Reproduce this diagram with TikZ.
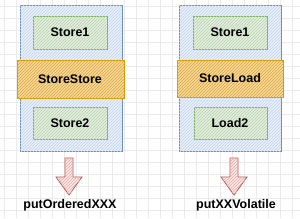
\documentclass[tikz,border=0pt]{standalone}
\usepackage{fontspec}
\setmainfont{Liberation Sans}
\usetikzlibrary{patterns}
\definecolor{bluS}{HTML}{6C8EBF}
\definecolor{bluF}{HTML}{E6EEF8}
\definecolor{bluP}{HTML}{C5D6EE}
\definecolor{grnS}{HTML}{82B366}
\definecolor{grnF}{HTML}{E3EEDF}
\definecolor{grnP}{HTML}{B9D4AE}
\definecolor{orgS}{HTML}{D79B00}
\definecolor{orgF}{HTML}{F3D9A0}
\definecolor{orgP}{HTML}{E0A630}
\definecolor{redS}{HTML}{B85450}
\definecolor{redF}{HTML}{FBEAEA}
\definecolor{redP}{HTML}{E8A8A6}
\definecolor{gridC}{HTML}{EBEBEB}
\begin{document}
\begin{tikzpicture}[x=1pt,y=-1pt,
  outerbox/.style={draw=bluS,line width=0.8pt,fill=bluF,postaction={pattern=north east lines,pattern color=bluP}},
  opbox/.style={draw=grnS,line width=0.8pt,fill=grnF,postaction={pattern=north east lines,pattern color=grnP}},
  barrier/.style={draw=orgS,line width=0.8pt,fill=orgF,postaction={pattern=north east lines,pattern color=orgP}},
  arrowshape/.style={draw=redS,line width=0.8pt,fill=redF,postaction={pattern=north east lines,pattern color=redP}},
  lbl/.style={font=\bfseries\fontsize{12.5}{14}\selectfont,text=black,inner sep=0pt}]
\useasboundingbox (0,0) rectangle (300,218);
\fill[white] (0,0) rectangle (300,218);
\foreach \x in {4,16,...,300} \draw[gridC,line width=0.4pt] (\x,0) -- (\x,218);
\foreach \y in {6,18,...,218} \draw[gridC,line width=0.4pt] (0,\y) -- (300,\y);
% left column
\path[outerbox] (20,5) rectangle (122,151);
\path[opbox] (33,16) rectangle (107,49);
\path[barrier] (17,60) rectangle (124,98);
\path[opbox] (33,107) rectangle (107,139);
\node[lbl] (s1) at (70,32.5) {Store1};
\node[lbl] (ss) at (70,79) {StoreStore};
\node[lbl] (s2) at (70,123) {Store2};
\path[arrowshape] (65,158) -- (73,158) -- (73,177) -- (82,177) -- (69,195) -- (56,177) -- (65,177) -- cycle;
\node[lbl] (l1) at (70,205) {putOrderedXXX};
% right column
\path[outerbox] (179,5) rectangle (281,151);
\path[opbox] (193,16) rectangle (267,49);
\path[barrier] (177,60) rectangle (283,97);
\path[opbox] (194,107) rectangle (267,139);
\node[lbl] (r1) at (230,32.5) {Store1};
\node[lbl] (sl) at (230,78.5) {StoreLoad};
\node[lbl] (r2) at (230,123) {Load2};
\path[arrowshape] (230,158) -- (238,158) -- (238,177) -- (247,177) -- (234,195) -- (221,177) -- (230,177) -- cycle;
\node[lbl] (l2) at (236,205) {putXXVolatile};
\end{tikzpicture}
\end{document}
